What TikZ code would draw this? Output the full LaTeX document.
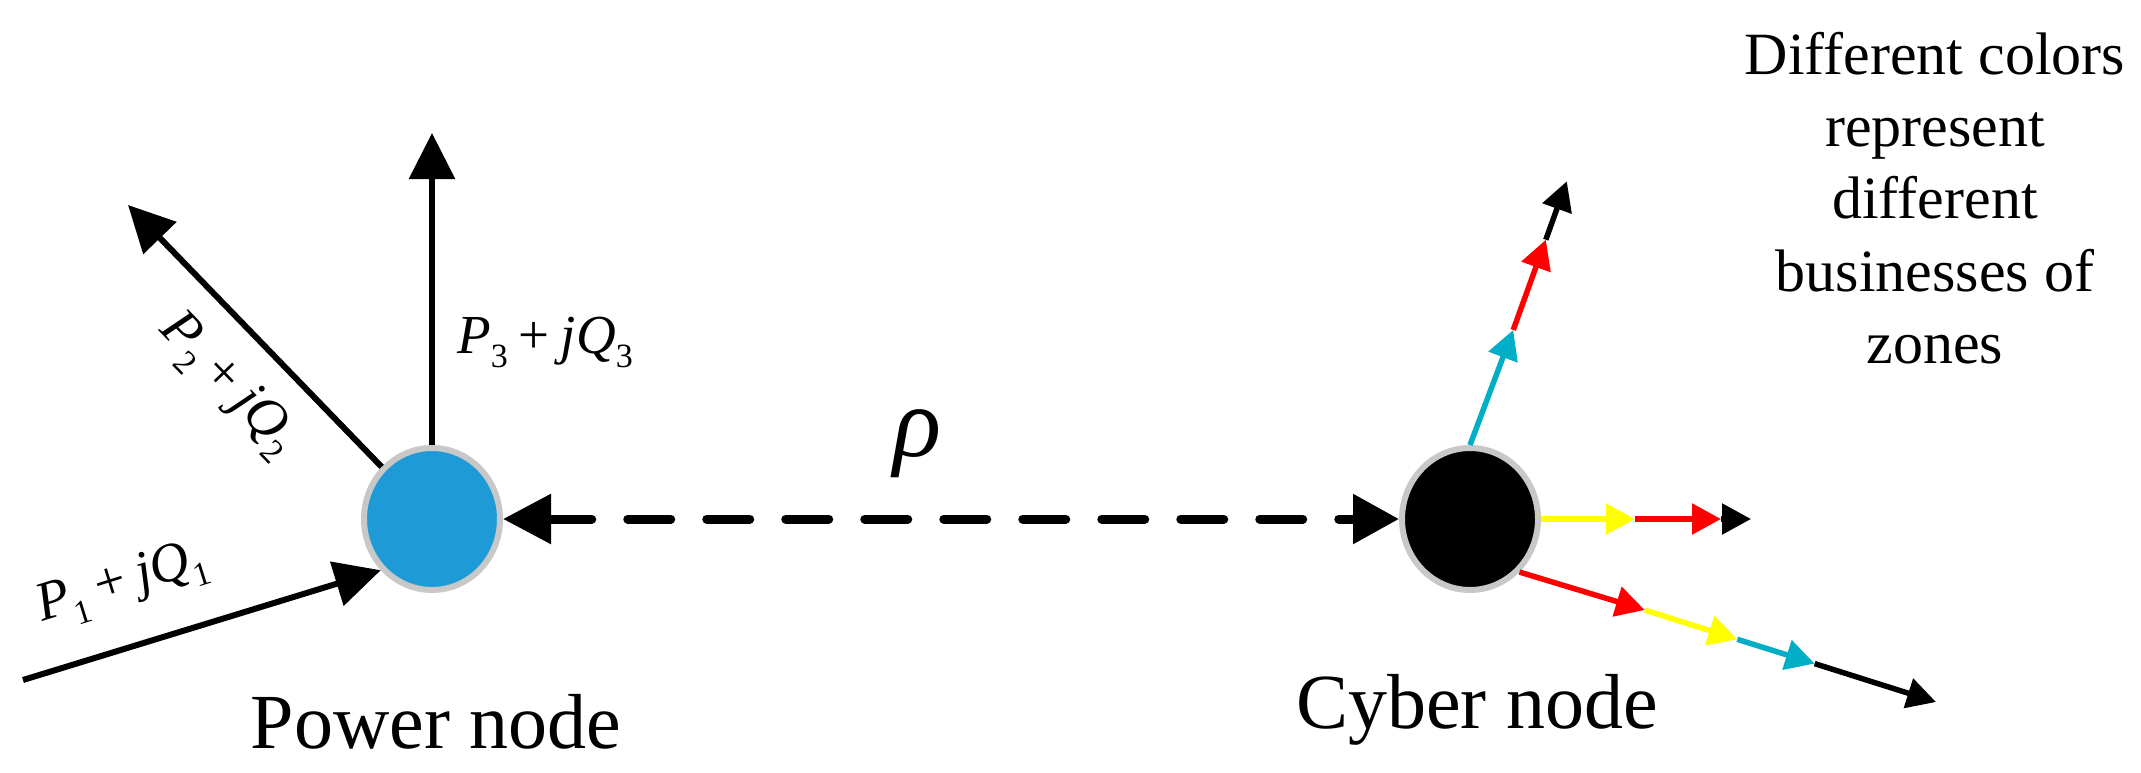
\documentclass[tikz,border=0pt]{standalone}
\usepackage{fontspec}
\setmainfont{Liberation Serif}
\usetikzlibrary{arrows.meta,shapes.geometric}
\definecolor{pblue}{RGB}{30,155,215}
\definecolor{ring}{RGB}{200,200,200}
\definecolor{bcyan}{RGB}{0,174,200}
\definecolor{byellow}{RGB}{255,255,0}
\definecolor{bred}{RGB}{255,0,0}
\newcommand{\lowsub}[1]{\raisebox{-14pt}{\fontsize{34}{34}\selectfont #1}}
\newcommand{\opsp}{\hspace{0.2em}}
\begin{document}
\begin{tikzpicture}[x=1pt,y=-1pt,
  bus/.style={ellipse, minimum width=136pt, minimum height=142pt, draw=ring, line width=6pt, inner sep=0pt},
  flow/.style={line width=6pt, -{Triangle[length=46pt,width=45pt]}},
  link/.style={line width=9pt, dash pattern=on 43pt off 36pt, line cap=round, {Triangle[length=48pt,width=48pt]}-{Triangle[length=46pt,width=48pt]}},
  seg/.style={line width=5.5pt, -{Triangle[length=29pt,width=30pt]}},
  lbl/.style={font=\fontsize{55}{60}\selectfont, inner sep=0pt},
  big/.style={font=\fontsize{78}{90}\selectfont, inner sep=0pt}
]
\fill[white] (0,0) rectangle (2141,773);
\useasboundingbox (0,0) rectangle (2141,773);

\node[bus, fill=pblue] (power) at (432,519) {};
\node[bus, fill=black] (cyber) at (1470,519) {};

\coordinate (p1s) at (23,680);
\coordinate (p2e) at (128,205);
\coordinate (p3e) at (432,133);
\draw[flow] (p1s) -- (power.225);
\draw[flow] (power.134) -- (p2e);
\draw[flow] (power.north) -- (p3e);

\draw[link] (power) -- (cyber);

\coordinate (u1) at (1513.2,330.0);
\coordinate (u2) at (1545.8,239.7);
\coordinate (u3) at (1566.8,181.3);
\draw[seg, bcyan] (cyber.north) -- (u1);
\draw[seg, bred] (u1) -- (u2);
\draw[seg, black] (u2) -- (u3);

\coordinate (h1) at (1635,519);
\coordinate (h2) at (1721,519);
\coordinate (h3) at (1751,519);
\draw[seg, byellow] (cyber.east) -- (h1);
\draw[seg, bred] (h1) -- (h2);
\draw[seg, black] (h2) -- (h3);

\coordinate (d1) at (1644.8,610.0);
\coordinate (d2) at (1737.3,639.3);
\coordinate (d3) at (1814.6,663.6);
\coordinate (d4) at (1936,702);
\draw[seg, bred] (cyber.-47) -- (d1);
\draw[seg, byellow] (d1) -- (d2);
\draw[seg, bcyan] (d2) -- (d3);
\draw[seg, black] (d3) -- (d4);

\node[lbl, anchor=base west] (l3) at (457,353) {\textit{P}\lowsub{3}\opsp+\opsp\textit{jQ}\lowsub{3}};
\node[lbl, anchor=base west, rotate=17.4] (l1) at (42,622) {\textit{P}\lowsub{1}\opsp+\opsp\textit{jQ}\lowsub{1}};
\node[lbl, anchor=base west, rotate=-46] (l2) at (158,330) {\textit{P}\lowsub{2}\opsp+\opsp\textit{jQ}\lowsub{2}};

\node[big, anchor=base] (pn) at (436,748) {Power node};
\node[big, anchor=base] (cn) at (1477,728) {Cyber node};
\node[font=\fontsize{100}{100}\selectfont\itshape, inner sep=0pt] (rho) at (917,444) {ρ};
\node[font=\fontsize{60}{72.25}\selectfont, align=center, anchor=north, inner sep=0pt] (note) at (1935,32) {Different colors\\represent\\different\\businesses of\\zones};
\end{tikzpicture}
\end{document}
